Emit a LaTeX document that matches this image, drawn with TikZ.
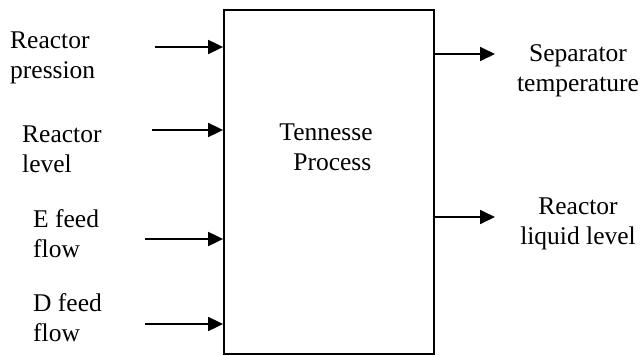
\documentclass[tikz,border=0pt]{standalone}
\usepackage{fontspec}
\setmainfont{Liberation Serif}
\usetikzlibrary{arrows.meta}
\tikzset{
  lbl/.style={inner sep=0pt, font=\fontsize{25.5}{30}\selectfont},
  arr/.style={line width=1.8pt, -{Triangle[length=15pt,width=14pt]}},
  procbox/.style={draw, line width=1.8pt, inner sep=0pt, minimum width=210pt, minimum height=344pt}
}
\begin{document}
\begin{tikzpicture}[x=1pt,y=-1pt]
\useasboundingbox (0,0) rectangle (640,356);
\node[procbox] (box) at (329,182) {};
\node[lbl, align=center, anchor=base] (title) at (326,170) {Tennesse\\\hspace*{0.5em}Process};
% left labels (base anchor = baseline of last line)
\node[lbl, align=left, anchor=base west] (l1) at (10,78) {Reactor\\pression};
\node[lbl, align=left, anchor=base west] (l2) at (22,172) {Reactor\\level};
\node[lbl, align=left, anchor=base west] (l3) at (33,257) {E feed\\flow};
\node[lbl, align=left, anchor=base west] (l4) at (33,341) {D feed\\flow};
% right labels
\node[lbl, align=center, anchor=base] (r1) at (578,91) {Separator\\temperature};
\node[lbl, align=center, anchor=base] (r2) at (578,244) {Reactor\\liquid level};
% arrow ends
\coordinate (s1) at (155,47);
\coordinate (s2) at (152,130);
\coordinate (s3) at (145,239);
\coordinate (s4) at (145,324);
\coordinate (e1) at (495,54);
\coordinate (e2) at (495,217);
\draw[arr] (s1) -- (s1 -| box.west);
\draw[arr] (s2) -- (s2 -| box.west);
\draw[arr] (s3) -- (s3 -| box.west);
\draw[arr] (s4) -- (s4 -| box.west);
\draw[arr] (e1 -| box.east) -- (e1);
\draw[arr] (e2 -| box.east) -- (e2);
\end{tikzpicture}
\end{document}
